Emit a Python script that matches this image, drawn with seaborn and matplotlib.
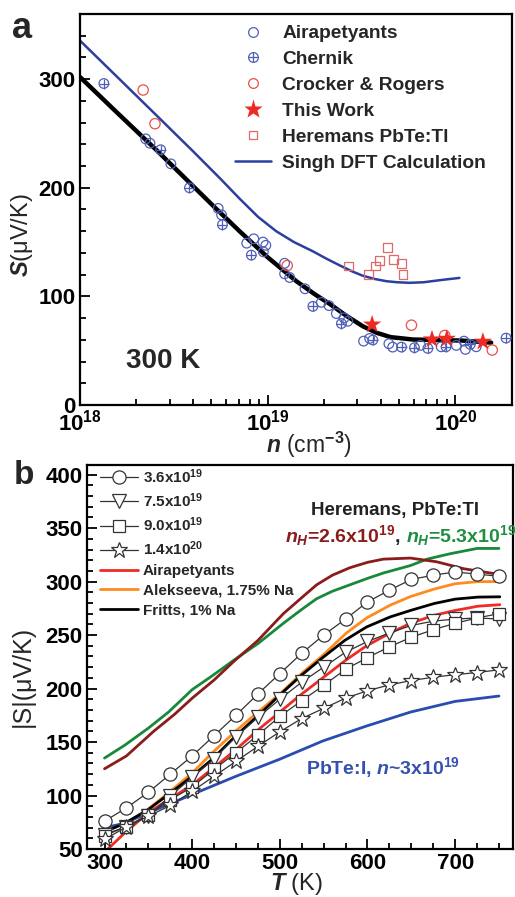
import matplotlib
matplotlib.use('Agg')
import numpy as np
import pandas as pd
import matplotlib.pyplot as plt
import seaborn as sns
from matplotlib.lines import Line2D
from matplotlib.legend_handler import HandlerTuple
from matplotlib.ticker import MultipleLocator, LogLocator, NullFormatter, FuncFormatter
from matplotlib.offsetbox import TextArea, HPacker, AnnotationBbox

# ---------------- panel a : S vs n at 300 K ----------------
air_n = [2.24e18, 2.36e18, 3.05e18, 5.45e18, 5.68e18, 7.73e18, 8.43e18, 9.44e18, 9.77e18, 9.48e18,
         1.23e19, 1.23e19, 1.31e19, 1.58e19, 1.93e19, 2.12e19, 2.32e19, 2.55e19, 2.67e19,
         3.24e19, 3.49e19, 4.42e19, 4.63e19, 6.52e19, 8.39e19, 1.01e20, 1.11e20, 1.13e20, 1.29e20]
air_s = [245, 241, 222, 181, 175, 149, 153, 150, 147, 141,
         130.5, 120.8, 117.4, 107, 94.5, 91.5, 84.2, 80.2, 77.1,
         58.8, 61.3, 56.4, 53.3, 54.9, 53.6, 54.9, 58.8, 51.2, 53.6]

chernik_n = [1.34e18, 2.69e18, 3.83e18, 5.74e18, 8.18e18, 1.74e19, 2.47e19, 3.63e19,
             5.16e19, 6.05e19, 7.13e19, 8.91e19, 1.20e20, 1.86e20]
chernik_s = [296, 235, 200, 166, 138, 90.8, 75, 59.8, 53.3, 52.8, 52.1, 53.6, 55.8, 61.6]

crocker_n = [2.17e18, 2.51e18, 1.27e19, 5.83e19, 8.77e19, 1.57e20]
crocker_s = [290, 259, 128.4, 73.5, 64, 50.6]

this_n = [3.6e19, 7.5e19, 9.0e19, 1.4e20]
this_s = [74.1, 60.4, 61, 58.3]

heremans_n = [2.69e19, 3.43e19, 3.75e19, 3.94e19, 4.35e19, 4.68e19, 5.16e19, 5.25e19]
heremans_s = [128, 120.5, 128, 133, 145, 133.6, 130, 120]

singh_n = [1.0e18, 1.58e18, 2.51e18, 3.98e18, 5.62e18, 7.08e18, 8.91e18, 1.11e19, 1.38e19,
           1.74e19, 2.04e19, 2.42e19, 2.82e19, 3.21e19, 3.72e19, 4.28e19, 4.90e19, 5.69e19,
           6.76e19, 7.89e19, 9.12e19, 1.05e20]
singh_s = [335.5, 302, 268, 234, 208, 190, 173, 160, 150,
           141.5, 135, 128.5, 123, 119, 116, 114, 113, 112.5,
           113, 114.5, 115.8, 117]

fit_n = [1.0e18, 1.58e18, 2.51e18, 3.98e18, 5.22e18, 7.08e18, 1.0e19, 1.42e19, 1.78e19,
         2.14e19, 2.63e19, 3.21e19, 3.80e19, 4.51e19, 5.93e19, 7.94e19, 1.09e20, 1.55e20]
fit_s = [302, 269, 236, 202, 182, 160, 136, 114, 102,
         93, 82, 72.5, 66.5, 62.5, 60.3, 59.8, 59.3, 57.4]

# ---------------- panel b : |S| vs T ----------------
T_grid = [300, 325, 350, 375, 400, 425, 450, 475, 500, 525, 550, 575, 600, 625, 650, 675, 700, 725, 750]
s_36e19 = [76, 88.5, 103, 120, 137, 156, 175, 195, 214, 233, 250, 265, 281, 292, 302, 306, 309, 307, 305]
s_75e19 = [63.5, 71, 81, 99.5, 117, 134.5, 155, 173, 190, 206, 220, 234, 244, 252, 259, 263, 265, 266, 265]
s_90e19 = [62.5, 71, 82, 96, 108, 124.5, 140, 156.5, 174, 188.7, 203, 218, 229, 239, 248, 255, 261, 266, 270]
s_14e20 = [59, 70.6, 80.7, 90.7, 104, 118, 132, 146, 159.6, 172, 181.5, 191, 198, 203.4, 207.5, 210.6, 213, 215, 217.5]

airap_T = [300, 323, 350, 373, 400, 427, 450, 476, 500, 522, 549, 576, 599, 626, 649, 676, 700, 726, 751]
airap_S = [47, 65, 84, 96, 110, 127.6, 143, 162, 178, 193, 210, 227, 240, 252, 261, 268.5, 273, 277, 278.4]

alek_T = [342, 373, 400, 423, 450, 475, 500, 526, 549, 576, 599, 626, 649, 676, 700, 726, 751]
alek_S = [82, 102.6, 121, 140, 160.5, 178, 195, 215, 231, 252, 266, 278, 286, 293, 298, 300, 300]

fritts_T = [300, 323, 350, 373, 400, 423, 450, 475, 500, 524, 549, 574, 599, 626, 649, 676, 700, 726, 751]
fritts_S = [66, 74, 87, 101, 118, 134, 156, 174.6, 194, 212, 229, 245, 257.6, 267, 273, 279.5, 283.6, 285.5, 285.8]

pbtei_T = [300, 323, 350, 373, 400, 450, 500, 549, 599, 649, 700, 750]
pbtei_S = [70, 74, 84, 91.6, 101, 118, 134, 151, 165, 178, 188, 193]

tl26_T = [300, 325, 356, 380, 400, 425, 447, 475, 504, 525, 542, 560, 580, 600, 618, 649, 679, 710, 748]
tl26_S = [125, 137, 160, 176, 191, 208, 225, 245, 270, 285, 297, 306, 313, 318, 321, 322, 318.5, 312, 307]

tl53_T = [300, 323, 350, 373, 400, 423, 450, 475, 504, 525, 542, 560, 580, 600, 618, 649, 668, 694, 725, 750]
tl53_S = [135, 147, 163, 178, 199, 212, 228, 242, 261, 274, 284, 291, 297, 303, 308, 315, 321, 326, 331, 331]

legend_a = ['Airapetyants', 'Chernik', 'Crocker & Rogers', 'This Work', 'Heremans PbTe:Tl', 'Singh DFT Calculation']
legend_b = [r'3.6x10$^{19}$', r'7.5x10$^{19}$', r'9.0x10$^{19}$', r'1.4x10$^{20}$',
            'Airapetyants', 'Alekseeva, 1.75% Na', 'Fritts, 1% Na']

sns.set_theme(style='ticks')
plt.rcParams['font.family'] = ['Liberation Sans', 'DejaVu Sans']
plt.rcParams['font.weight'] = 'bold'
plt.rcParams['mathtext.fontset'] = 'custom'
plt.rcParams['mathtext.rm'] = 'Liberation Sans:bold'
plt.rcParams['mathtext.it'] = 'Liberation Sans:italic:bold'
plt.rcParams['mathtext.bf'] = 'Liberation Sans:bold'
plt.rcParams['mathtext.default'] = 'rm'

blue_pt = '#4f5fb8'
blue_ln = '#2b3f9e'
red_o = '#e8504a'
red_star = '#ee2a24'
red_sq = '#e06a6a'

fig = plt.figure(figsize=(5.15, 8.97), dpi=100)

# ---- panel a
ax1 = fig.add_axes([0.1553, 0.5485, 0.8388, 0.4359])
ax1.set_xscale('log')
sns.lineplot(x=singh_n, y=singh_s, ax=ax1, color=blue_ln, lw=1.8, estimator=None, sort=False)
sns.lineplot(x=fit_n, y=fit_s, ax=ax1, color='black', lw=3.2, estimator=None, sort=False)
sns.scatterplot(x=air_n, y=air_s, ax=ax1, marker='o', s=48, color=blue_pt,
                facecolor='none', edgecolor=blue_pt, linewidth=0.9, zorder=3)
sns.scatterplot(x=chernik_n, y=chernik_s, ax=ax1, marker='o', s=48, color=blue_pt,
                facecolor='none', edgecolor=blue_pt, linewidth=0.9, zorder=3)
sns.scatterplot(x=chernik_n, y=chernik_s, ax=ax1, marker='+', s=48, color=blue_pt,
                linewidth=0.9, zorder=3)
sns.scatterplot(x=crocker_n, y=crocker_s, ax=ax1, marker='o', s=55, color=red_o,
                facecolor='none', edgecolor=red_o, linewidth=0.9, zorder=3)
sns.scatterplot(x=heremans_n, y=heremans_s, ax=ax1, marker='s', s=40, color=red_sq,
                facecolor='none', edgecolor=red_sq, linewidth=0.9, zorder=3)
sns.scatterplot(x=this_n, y=this_s, ax=ax1, marker='*', s=190, color=red_star,
                edgecolor='none', zorder=4)

ax1.set_xlim(1e18, 2e20)
ax1.set_ylim(0, 360)
ax1.yaxis.set_major_locator(MultipleLocator(100))
ax1.yaxis.set_minor_locator(MultipleLocator(20))
ax1.xaxis.set_major_locator(LogLocator(base=10, numticks=10))
ax1.xaxis.set_minor_locator(LogLocator(base=10, subs=np.arange(2, 10), numticks=20))
ax1.xaxis.set_minor_formatter(NullFormatter())
ax1.xaxis.set_major_formatter(FuncFormatter(lambda v, p: r'$10^{%d}$' % int(round(np.log10(v)))))
ax1.set_xlabel(r'$\mathit{n}$ (cm$^{-3}$)', fontsize=16.5)
ax1.set_ylabel(r'$\mathit{S}$(μV/K)', fontsize=17)
ax1.xaxis.set_label_coords(0.53, -0.063)
ax1.yaxis.set_label_coords(-0.104, 0.435)
ax1.text(2.77e18, 40.3, '300 K', fontsize=20, ha='center', va='center')

h_air = Line2D([], [], ls='none', marker='o', ms=7, mfc='none', mec=blue_pt, mew=0.9)
h_che = (Line2D([], [], ls='none', marker='o', ms=7, mfc='none', mec=blue_pt, mew=0.9),
         Line2D([], [], ls='none', marker='+', ms=7, mec=blue_pt, mew=0.9))
h_cro = Line2D([], [], ls='none', marker='o', ms=7, mfc='none', mec=red_o, mew=0.9)
h_star = Line2D([], [], ls='none', marker='*', ms=14, mfc=red_star, mec='none')
h_sq = Line2D([], [], ls='none', marker='s', ms=6, mfc='none', mec=red_sq, mew=0.9)
h_singh = Line2D([], [], color=blue_ln, lw=1.8)
ax1.legend([h_air, h_che, h_cro, h_star, h_sq, h_singh], legend_a,
           loc='upper left', bbox_to_anchor=(0.359, 0.972), frameon=False, fontsize=13.8,
           handlelength=1.9, handletextpad=0.55, labelspacing=0.44, borderpad=0, borderaxespad=0,
           handler_map={tuple: HandlerTuple(ndivide=1)})

# ---- panel b
red_b = '#ee2b24'
orange_b = '#ff8a1e'
blue_b = '#2a4bb0'
green_b = '#18893a'
maroon_b = '#8a1c1c'
mk_col = '#333333'

ax2 = fig.add_axes([0.1689, 0.0535, 0.8272, 0.4281])
sns.lineplot(x=tl53_T, y=tl53_S, ax=ax2, color=green_b, lw=2.0, estimator=None, sort=False)
sns.lineplot(x=tl26_T, y=tl26_S, ax=ax2, color=maroon_b, lw=2.0, estimator=None, sort=False)
sns.lineplot(x=pbtei_T, y=pbtei_S, ax=ax2, color=blue_b, lw=2.0, estimator=None, sort=False)
sns.lineplot(x=airap_T, y=airap_S, ax=ax2, color=red_b, lw=2.0, estimator=None, sort=False)
sns.lineplot(x=alek_T, y=alek_S, ax=ax2, color=orange_b, lw=2.0, estimator=None, sort=False)
sns.lineplot(x=fritts_T, y=fritts_S, ax=ax2, color='black', lw=2.0, estimator=None, sort=False)

series_b = [(s_36e19, 'o', 9.5), (s_75e19, 'v', 10.5), (s_90e19, 's', 8.5), (s_14e20, '*', 12)]
for vals, mk, ms in series_b:
    sns.lineplot(x=T_grid, y=vals, ax=ax2, color=mk_col, lw=0.9, marker=mk, ms=ms,
                 mfc='white', mec=mk_col, mew=0.9, estimator=None, sort=False, zorder=4)

ax2.set_xlim(280, 766)
ax2.set_ylim(50, 409)
ax2.xaxis.set_major_locator(MultipleLocator(100))
ax2.xaxis.set_minor_locator(MultipleLocator(25))
ax2.yaxis.set_major_locator(MultipleLocator(50))
ax2.yaxis.set_minor_locator(MultipleLocator(10))
ax2.set_xlabel(r'$\mathit{T}$ (K)', fontsize=17)
ax2.set_ylabel('|S|(μV/K)', fontsize=18)
ax2.xaxis.set_label_coords(0.493, -0.056)
ax2.yaxis.set_label_coords(-0.122, 0.45)

hb = []
for vals, mk, ms in series_b:
    hb.append(Line2D([], [], color=mk_col, lw=0.9, marker=mk, ms=ms, mfc='white', mec=mk_col, mew=0.9))
hb += [Line2D([], [], color=red_b, lw=2.0), Line2D([], [], color=orange_b, lw=2.0),
       Line2D([], [], color='black', lw=2.0)]
ax2.legend(hb, legend_b, loc='upper left', bbox_to_anchor=(0.03, 0.995), frameon=False,
           fontsize=11, handlelength=2.5, handletextpad=0.3, labelspacing=0.37,
           borderpad=0, borderaxespad=0)

ax2.text(631.8, 366.7, 'Heremans, PbTe:Tl', fontsize=13.5, ha='center', va='center', color='#222222')
parts = [TextArea(r'$\mathit{n}_{\mathit{H}}$=2.6x10$^{19}$', textprops=dict(color=maroon_b, fontsize=14)),
         TextArea(', ', textprops=dict(color='#222222', fontsize=14)),
         TextArea(r'$\mathit{n}_{\mathit{H}}$=5.3x10$^{19}$', textprops=dict(color='#1f8f3f', fontsize=14))]
pack = HPacker(children=parts, align='baseline', pad=0, sep=0)
ax2.add_artist(AnnotationBbox(pack, (637.6, 343.3), xycoords='data', frameon=False, box_alignment=(0.5, 0.5)))
ax2.text(618, 126.3, r'PbTe:I, $\mathit{n}$~3x10$^{19}$', fontsize=14, ha='center', va='center', color='#3550b0')

for ax in (ax1, ax2):
    for sp in ax.spines.values():
        sp.set_linewidth(1.6)
        sp.set_color('black')
    ax.tick_params(which='both', direction='in', top=False, right=False, width=1.3, colors='black')
    ax.tick_params(which='major', length=7, labelsize=16, pad=3)
    ax.tick_params(which='minor', length=4)
    ax.grid(False)

fig.text(22 / 515, 1 - 28 / 897, 'a', fontsize=26, ha='center', va='center')
fig.text(24 / 515, 1 - 475 / 897, 'b', fontsize=24, ha='center', va='center')

fig.savefig('out.png', dpi=100)
